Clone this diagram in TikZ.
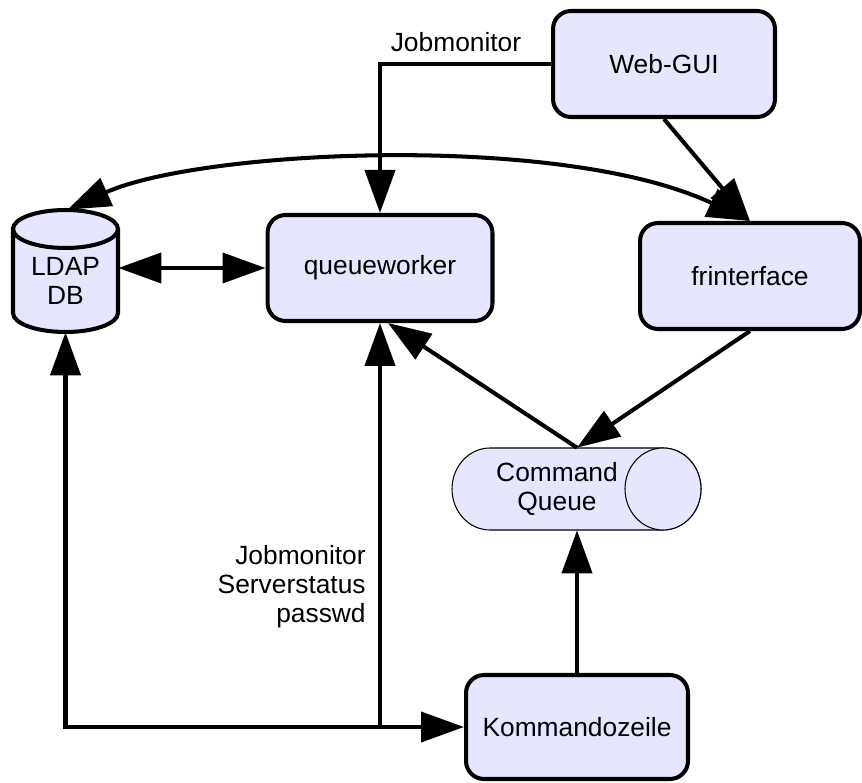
\documentclass[tikz,border=0pt]{standalone}
\usepackage{fontspec}
\setmainfont{Liberation Sans}
\usetikzlibrary{arrows.meta,calc}

\definecolor{boxfill}{RGB}{230,230,255}

\tikzset{
  proc/.style={draw, line width=2.3pt, fill=boxfill, rounded corners=0.36cm,
    minimum width=4.44cm, minimum height=2.12cm, align=center, inner sep=0pt},
  lbl/.style={inner sep=0pt, align=center},
  conn/.style={line width=2.3pt},
  arr/.style={-{Triangle[length=8.6mm,width=6mm]}},
  both/.style={{Triangle[length=8.6mm,width=6mm]}-{Triangle[length=8.6mm,width=6mm]}},
}

\begin{document}
\begin{tikzpicture}[x=0.02cm, y=-0.02cm, font=\fontsize{15pt}{16.5pt}\selectfont]
  \useasboundingbox (0,0) rectangle (862,783);

  % boxes
  \node[proc] (web) at (664,64) {Web-GUI};
  \node[proc, minimum width=4.5cm] (qw) at (380,268) {queueworker};
  \node[proc, minimum width=4.4cm] (fri) at (750,276) {frinterface};
  \node[proc, minimum height=2.08cm] (kz) at (577,727) {Kommandozeile};

  % LDAP cylinder (upright)
  \draw[line width=2.3pt, fill=boxfill] (13,229) -- (13,313) arc (180:360:1.05cm and 0.38cm)
    -- (118,229) arc (0:180:1.05cm and 0.38cm) -- cycle;
  \draw[line width=2.3pt] (13,229) arc (180:360:1.05cm and 0.38cm);
  \node[lbl, minimum width=2.1cm, minimum height=2.06cm] (ldap) at (65.5,280.5) {LDAP\\DB};

  % command queue (lying)
  \draw[line width=0.6pt, fill=boxfill] (490,448) -- (663,448) arc (90:-90:0.76cm and 0.82cm)
    -- (490,530) arc (270:90:0.76cm and 0.82cm) -- cycle;
  \draw[line width=0.6pt, fill=boxfill] (663,489) ellipse (0.76cm and 0.82cm);
  \node[lbl, minimum width=4.2cm, minimum height=1.64cm] (cq) at (557,489) {Command\\Queue};

  % connections
  \draw[conn, arr] (web.west) -| (qw.north);
  \node[lbl] (jm) at (456,42) {Jobmonitor};
  \draw[conn, arr] (web.south) -- (fri.north);
  \draw[conn, both] ($(ldap.north)+(2,-19)$) .. controls (200,150) and (560,132) .. (fri.north);
  \draw[conn, both] (qw.west -| ldap.east) -- (qw.west);
  \draw[conn, arr] (cq.north -| kz.north) -- ($(qw.south)+(8,0)$);
  \draw[conn, arr] (fri.south) -- (cq.north -| kz.north);
  \draw[conn, arr] (kz.north) -- (kz.north |- cq.south);
  \draw[conn, both] (ldap.south) |- (kz.west);
  \draw[conn, arr] (qw.south |- kz.west) -- (qw.south);
  \node[lbl, align=right, anchor=east] (info) at (366,587) {Jobmonitor\\Serverstatus\\passwd};
\end{tikzpicture}
\end{document}
